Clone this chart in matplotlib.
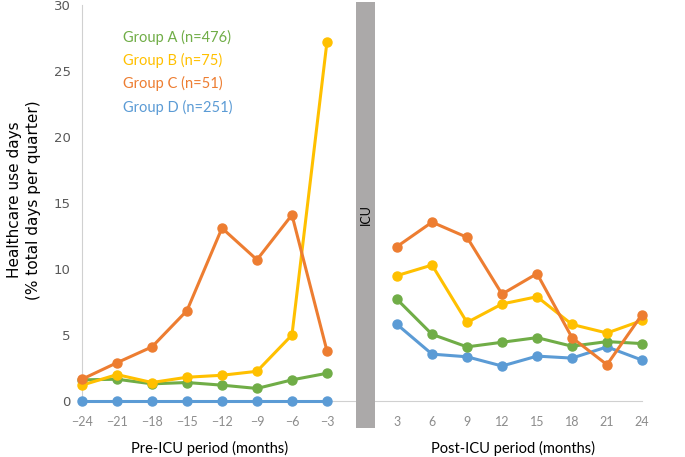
import matplotlib
matplotlib.use('Agg')
import matplotlib.pyplot as plt
from matplotlib.patches import Rectangle

# data
pre_months = [-24, -21, -18, -15, -12, -9, -6, -3]
post_months = [3, 6, 9, 12, 15, 18, 21, 24]

groups = ['Group A (n=476)', 'Group B (n=75)', 'Group C (n=51)', 'Group D (n=251)']
colors = ['#70AD47', '#FFC000', '#ED7D31', '#5B9BD5']

pre_a = [1.6, 1.65, 1.3, 1.4, 1.2, 0.95, 1.6, 2.1]
pre_b = [1.2, 2.0, 1.4, 1.8, 1.95, 2.25, 5.0, 27.2]
pre_c = [1.65, 2.9, 4.1, 6.85, 13.1, 10.7, 14.1, 3.8]
pre_d = [0, 0, 0, 0, 0, 0, 0, 0]

post_a = [7.7, 5.05, 4.1, 4.45, 4.8, 4.15, 4.5, 4.35]
post_b = [9.5, 10.3, 5.95, 7.35, 7.9, 5.8, 5.15, 6.1]
post_c = [11.7, 13.55, 12.4, 8.1, 9.65, 4.8, 2.75, 6.55]
post_d = [5.8, 3.55, 3.35, 2.65, 3.4, 3.25, 4.1, 3.1]

pre_vals = [pre_a, pre_b, pre_c, pre_d]
post_vals = [post_a, post_b, post_c, post_d]

W, H = 685, 457
fig = plt.figure(figsize=(W / 100, H / 100), dpi=100)


def px_axes(x0, y_top, x1, y_bot):
    return fig.add_axes([x0 / W, (H - y_bot) / H, (x1 - x0) / W, (y_bot - y_top) / H])


ax1 = px_axes(82, 5, 356, 401)
ax2 = px_axes(375, 5, 642, 401)

# draw D first so the other groups sit on top, like the reference
for i in [3, 0, 1, 2]:
    ax1.plot(pre_months, pre_vals[i], color=colors[i], lw=2.2, marker='o', ms=6.5, clip_on=False, zorder=3)
    ax2.plot(post_months, post_vals[i], color=colors[i], lw=2.2, marker='o', ms=6.5, clip_on=False, zorder=3)

ax1.set_xlim(-24, -0.51)
ax2.set_xlim(1.11, 24)
for ax in (ax1, ax2):
    ax.set_ylim(0, 30)
    for s in ['top', 'right']:
        ax.spines[s].set_visible(False)
    ax.spines['bottom'].set_color('#D0D0D0')
    ax.spines['left'].set_color('#D0D0D0')
    ax.tick_params(axis='x', length=0, pad=11, labelsize=9, labelcolor='#8C8C8C')

ax1.set_xticks(pre_months)
ax2.set_xticks(post_months)
for ax in (ax1, ax2):
    for lab in ax.get_xticklabels():
        lab.set_family('Lato')

ax1.set_yticks(range(0, 31, 5))
ax1.tick_params(axis='y', length=0, pad=8, labelsize=9.5, labelcolor='#595959')
ax2.spines['left'].set_visible(False)
ax2.set_yticks([])

# ICU band between the two panels
fig.patches.append(Rectangle((356 / W, (H - 428) / H), 19 / W, 426 / H,
                             transform=fig.transFigure, facecolor='#ABA9A9', edgecolor='none'))
fig.text(365.5 / W, (H - 215) / H, 'ICU', rotation=90, ha='center', va='center', fontsize=9, family='Lato')

# group labels in place of a legend
label_y = [37, 60, 83, 107]
for name, c, y in zip(groups, colors, label_y):
    fig.text(123 / W, (H - y) / H, name, color=c, fontsize=10.5, family='Lato', va='center')

fig.text(210 / W, (H - 448) / H, 'Pre-ICU period (months)', ha='center', va='center', fontsize=10.5, family='Lato')
fig.text(513 / W, (H - 448) / H, 'Post-ICU period (months)', ha='center', va='center', fontsize=10.5, family='Lato')
fig.text(24 / W, (H - 200) / H, 'Healthcare use days\n(% total days per quarter)', rotation=90,
         ha='center', va='center', fontsize=11, linespacing=1.3)

fig.savefig('out.png', dpi=100)
